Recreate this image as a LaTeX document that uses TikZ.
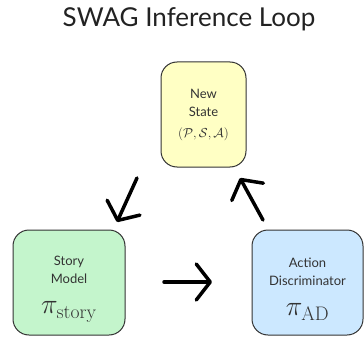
\RequirePackage{fix-cm}
\documentclass[tikz,border=0pt]{standalone}
\usepackage[no-math]{fontspec}
\setmainfont{Lato}
\usetikzlibrary{arrows.meta}
\definecolor{stateyellow}{HTML}{FFFFC4}
\definecolor{storygreen}{HTML}{C4F5CC}
\definecolor{adblue}{HTML}{CCE8FF}
\definecolor{boxgray}{HTML}{333333}
\definecolor{titlegray}{HTML}{222222}
\tikzset{
  loopbox/.style={draw=boxgray, line width=1pt, rounded corners=16pt,
    minimum height=105pt, inner sep=2pt, align=center, text=boxgray,
    font=\fontsize{13}{18}\selectfont},
  looparrow/.style={line width=3.5pt, line cap=round,
    -{Straight Barb[round,length=14pt,width=36pt]}},
}
\newcommand{\bigpi}[1]{{\fontsize{28}{28}\selectfont$\pi_{\mathrm{#1}}$}}
\begin{document}
\begin{tikzpicture}[x=1pt,y=-1pt]
        \useasboundingbox (0,0) rectangle (364,337);
        \node[anchor=base,text=titlegray,font=\fontsize{26}{26}\selectfont] (title) at (189,27) {SWAG Inference Loop};
        \node[loopbox,fill=stateyellow,minimum width=85pt] (state) at (203.5,114.5)
          {New\\State\\[3pt]$(\mathcal{P},\mathcal{S},\mathcal{A})$};
        \node[loopbox,fill=storygreen,minimum width=112pt] (story) at (69,282.5)
          {\rule{0pt}{23pt}Story\\Model\\[12pt]\bigpi{story}};
        \node[loopbox,fill=adblue,minimum width=111pt] (ad) at (307.5,282.5)
          {\rule{0pt}{23pt}Action\\Discriminator\\[12pt]\bigpi{AD}};
        \coordinate (stateout) at (137,178);
        \coordinate (storyin) at (117,222);
        \coordinate (storyout) at (164,282);
        \coordinate (adin) at (212,282);
        \coordinate (adout) at (263,220);
        \coordinate (statein) at (240,178);
        \draw[looparrow] (stateout) -- (storyin);
        \draw[looparrow] (storyout) -- (adin);
        \draw[looparrow] (adout) -- (statein);
      \end{tikzpicture}
\end{document}
